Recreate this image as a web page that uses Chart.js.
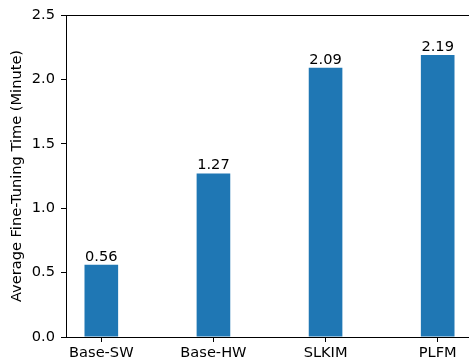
<!DOCTYPE html>
<html>
<head>
<meta charset="utf-8">
<script src="https://cdn.jsdelivr.net/npm/chart.js@4/dist/chart.umd.min.js"></script>
<style>
  html, body { margin: 0; padding: 0; background: #fff; overflow: hidden; }
  #wrap { width: 469px; height: 362px; overflow: hidden; }
</style>
</head>
<body>
<div id="wrap"><canvas id="c" width="500" height="362"></canvas></div>
<script>
// Categories and measured fine-tuning times (minutes)
const methods = ['Base-SW', 'Base-HW', 'SLKIM', 'PLFM'];
const fineTuneMinutes = [0.56, 1.27, 2.09, 2.19];
const yTicks = [0.0, 0.5, 1.0, 1.5, 2.0, 2.5];

const FONT = 'DejaVu Sans';
const FONT_SIZE = 14.6;
const BAR_COLOR = '#1f77b4';

// Value labels above each bar
const valueLabels = {
  id: 'valueLabels',
  afterDatasetsDraw(chart) {
    const ctx = chart.ctx;
    const meta = chart.getDatasetMeta(0);
    ctx.save();
    ctx.font = FONT_SIZE + 'px "' + FONT + '"';
    ctx.fillStyle = '#000';
    ctx.textAlign = 'center';
    ctx.textBaseline = 'alphabetic';
    meta.data.forEach((bar, i) => {
      ctx.fillText(fineTuneMinutes[i].toFixed(2), bar.x, bar.y - 4);
    });
    ctx.restore();
  }
};

// Top and right spines of the plotting area
const frame = {
  id: 'frame',
  afterDraw(chart) {
    const { left, right, top, bottom } = chart.chartArea;
    const ctx = chart.ctx;
    const x0 = Math.round(left) + 0.5;
    const x1 = Math.round(right) + 0.5;
    const y0 = Math.round(top) + 0.5;
    ctx.save();
    ctx.strokeStyle = '#000';
    ctx.lineWidth = 1;
    ctx.beginPath();
    ctx.moveTo(x0, y0);
    ctx.lineTo(x1, y0);
    ctx.lineTo(x1, Math.round(bottom) + 0.5);
    ctx.stroke();
    ctx.restore();
  }
};

new Chart(document.getElementById('c'), {
  type: 'bar',
  data: {
    datasets: [{
      data: fineTuneMinutes.map((v, i) => ({ x: i, y: v })),
      backgroundColor: BAR_COLOR,
      borderWidth: 0,
      categoryPercentage: 1.0,
      barPercentage: 0.3
    }]
  },
  options: {
    responsive: false,
    animation: false,
    events: [],
    layout: { padding: { top: 15, right: 27, bottom: 0, left: 0 } },
    plugins: { legend: { display: false }, tooltip: { enabled: false } },
    scales: {
      x: {
        type: 'linear',
        min: -0.315,
        max: 3.315,
        offset: false,
        afterBuildTicks(scale) {
          scale.ticks = methods.map((_, i) => ({ value: i }));
        },
        afterFit(scale) {
          scale.height = 25;
          scale.paddingLeft = 0;
          scale.paddingRight = 0;
        },
        ticks: {
          callback: (v) => methods[v] ?? '',
          color: '#000',
          font: { family: FONT, size: FONT_SIZE },
          padding: 2,
          maxRotation: 0,
          autoSkip: false
        },
        grid: {
          offset: false,
          drawOnChartArea: false,
          drawTicks: true,
          tickLength: 5,
          color: '#000'
        },
        border: { display: true, color: '#000', width: 1 }
      },
      y: {
        min: 0,
        max: 2.5,
        afterBuildTicks(scale) {
          scale.ticks = yTicks.map(v => ({ value: v }));
        },
        afterFit(scale) {
          scale.width = 66;
          scale.paddingTop = 0;
          scale.paddingBottom = 0;
        },
        ticks: {
          callback: (v) => Number(v).toFixed(1),
          color: '#000',
          font: { family: FONT, size: FONT_SIZE },
          padding: 6
        },
        grid: {
          drawOnChartArea: false,
          drawTicks: true,
          tickLength: 5,
          color: '#000'
        },
        border: { display: true, color: '#000', width: 1 },
        title: {
          display: true,
          text: 'Average Fine-Tuning Time (Minute)',
          color: '#000',
          font: { family: FONT, size: FONT_SIZE },
          padding: { top: 8, bottom: 0 }
        }
      }
    }
  },
  plugins: [valueLabels, frame]
});
</script>
</body>
</html>
